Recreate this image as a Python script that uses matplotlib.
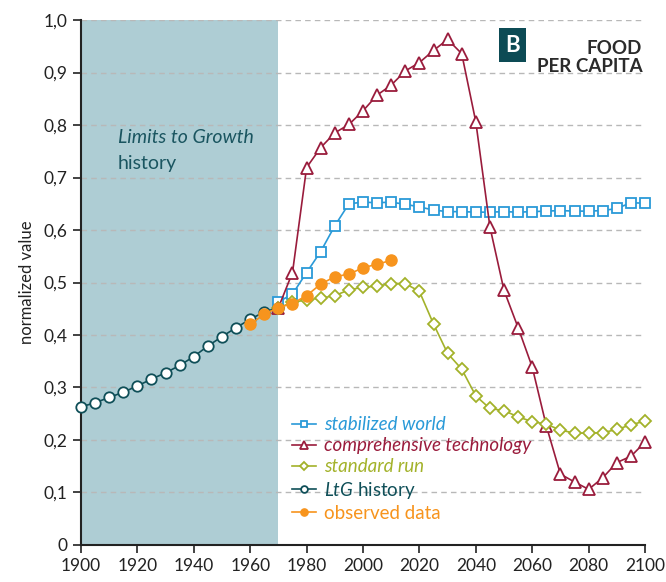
import numpy as np
import matplotlib.pyplot as plt

plt.rcParams['font.family'] = ['Lato', 'DejaVu Sans']
plt.rcParams['mathtext.fontset'] = 'custom'
plt.rcParams['mathtext.it'] = 'Lato:italic'
plt.rcParams['mathtext.rm'] = 'Lato'

# --- data ---
hist_years = list(range(1900, 1971, 5))
ltg_history = [0.263, 0.271, 0.281, 0.291, 0.303, 0.316, 0.328, 0.342,
               0.359, 0.379, 0.397, 0.414, 0.430, 0.444, 0.452]

obs_years = list(range(1960, 2011, 5))
observed = [0.420, 0.440, 0.452, 0.460, 0.475, 0.497, 0.511, 0.516,
            0.528, 0.535, 0.542]

run_years = list(range(1970, 2101, 5))
stabilized = [0.463, 0.478, 0.519, 0.559, 0.608, 0.650, 0.653, 0.652,
              0.653, 0.649, 0.644, 0.638, 0.635, 0.635, 0.634, 0.634,
              0.635, 0.634, 0.635, 0.636, 0.637, 0.636, 0.636, 0.637,
              0.641, 0.652, 0.651]
comprehensive = [0.452, 0.519, 0.719, 0.757, 0.785, 0.801, 0.827, 0.857,
                 0.876, 0.903, 0.919, 0.942, 0.963, 0.936, 0.806, 0.606,
                 0.485, 0.414, 0.339, 0.227, 0.135, 0.120, 0.106, 0.128,
                 0.157, 0.169, 0.196]
standard = [0.452, 0.462, 0.467, 0.470, 0.475, 0.486, 0.491, 0.493,
            0.498, 0.498, 0.483, 0.421, 0.365, 0.335, 0.284, 0.260,
            0.256, 0.244, 0.235, 0.230, 0.219, 0.213, 0.213, 0.214,
            0.220, 0.229, 0.236]

c_blue = '#2a9ad8'
c_red = '#9a1c3c'
c_olive = '#a3b22a'
c_teal = '#0f4f58'
c_orange = '#f7941d'
c_shade = '#aecdd4'

fig = plt.figure(figsize=(6.66, 5.82), dpi=100)
ax = fig.add_axes([0.1216, 0.0636, 0.8469, 0.902])

ax.axvspan(1900, 1970, color=c_shade, lw=0, zorder=0)
ax.set_yticks(np.arange(0, 1.01, 0.1))
for y in np.arange(0.1, 1.01, 0.1):
    ax.axhline(y, color='#b8b8b8', lw=1, dashes=(4, 3), zorder=1)

ax.plot(run_years, stabilized, color=c_blue, lw=1.2, marker='s', ms=7,
        mfc='white', mec=c_blue, mew=1.3, zorder=3, clip_on=False,
        label='stabilized world')
ax.plot(run_years, comprehensive, color=c_red, lw=1.2, marker='^', ms=9,
        mfc='white', mec=c_red, mew=1.3, zorder=3, clip_on=False,
        label='comprehensive technology')
ax.plot(run_years, standard, color=c_olive, lw=1.2, marker='D', ms=6,
        mfc='white', mec=c_olive, mew=1.3, zorder=3, clip_on=False,
        label='standard run')
ax.plot(hist_years, ltg_history, color=c_teal, lw=1.2, marker='o', ms=7.5,
        mfc='white', mec=c_teal, mew=1.3, zorder=4, clip_on=False,
        label=r'$\mathit{LtG}$ history')
ax.plot(obs_years, observed, color=c_orange, lw=1.2, marker='o', ms=8,
        mfc=c_orange, mec=c_orange, zorder=5, clip_on=False,
        label='observed data')

ax.set_xlim(1900, 2100)
ax.set_ylim(0, 1.0)
ax.set_xticks(range(1900, 2101, 20))
ax.set_yticklabels(['0'] + [f'{v:.1f}'.replace('.', ',') for v in np.arange(0.1, 1.01, 0.1)])
ax.tick_params(axis='both', labelsize=12.5, colors='#222222', length=6, width=1.2)
for s in ['top', 'right']:
    ax.spines[s].set_visible(False)
for s in ['left', 'bottom']:
    ax.spines[s].set_color('#222222')
    ax.spines[s].set_linewidth(1.5)
ax.set_ylabel('normalized value', fontsize=12, color='#222222', labelpad=6)

leg = ax.legend(loc='lower left', bbox_to_anchor=(0.36, 0.03), frameon=False,
                fontsize=13.5, handlelength=1.3, handletextpad=0.45,
                labelspacing=0.22, borderaxespad=0, markerscale=0.65)
styles = ['italic', 'italic', 'italic', 'normal', 'normal']
for txt, line, st in zip(leg.get_texts(), leg.get_lines(), styles):
    txt.set_color(line.get_color())
    txt.set_fontstyle(st)

ax.text(1913, 0.765, 'Limits to Growth', fontsize=14, style='italic',
        color='#1a5560', zorder=6)
ax.text(1913, 0.717, 'history', fontsize=14, color='#1a5560', zorder=6)

ax.text(2099, 0.962, 'FOOD\nPER CAPITA', fontsize=13.5, fontweight='bold',
        color='#2b2b2b', ha='right', va='top', linespacing=1.05)
ax.text(2053, 0.952, 'B', fontsize=16, fontweight='bold', color='white',
        ha='center', va='center',
        bbox=dict(boxstyle='square,pad=0.28', fc='#0d4b55', ec='none'))

fig.savefig('out.png', dpi=100)
